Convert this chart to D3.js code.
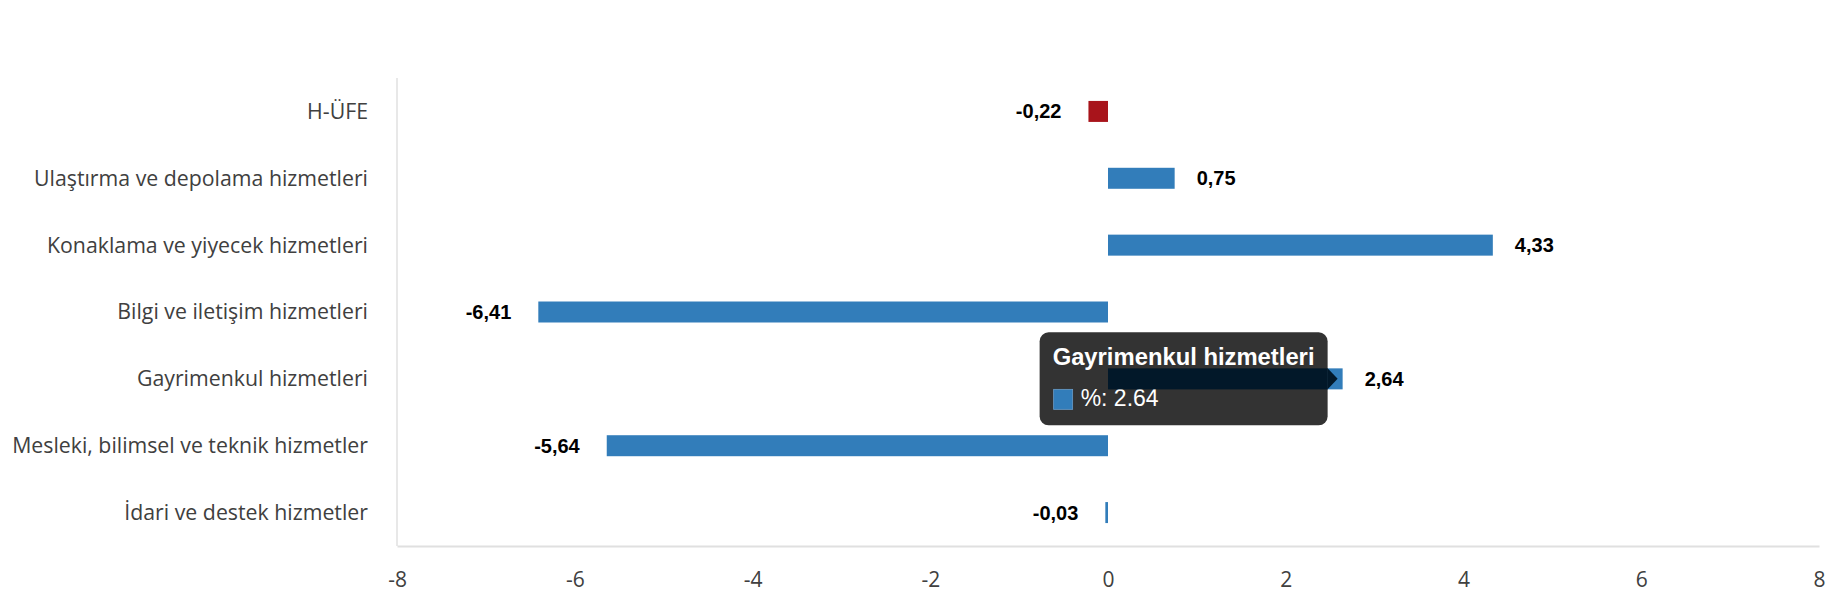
<!DOCTYPE html>
<html>
<head>
<meta charset="utf-8">
<script src="https://cdn.jsdelivr.net/npm/d3@7"></script>
<style>
  body { margin: 0; background: #fff; }
  .cat { font-family: "Open Sans", sans-serif; font-size: 21.3px; fill: #404040; }
  .tick text { font-family: "Open Sans", sans-serif; font-size: 21px; fill: #404040; }
  .val { font-family: "Liberation Sans", Arial, sans-serif; font-size: 20px; font-weight: bold; fill: #000; }
</style>
</head>
<body>
<div class="chart"></div>
<script>
const categories = [
  "H-ÜFE",
  "Ulaştırma ve depolama hizmetleri",
  "Konaklama ve yiyecek hizmetleri",
  "Bilgi ve iletişim hizmetleri",
  "Gayrimenkul hizmetleri",
  "Mesleki, bilimsel ve teknik hizmetler",
  "İdari ve destek hizmetler"
];
const values = [-0.22, 0.75, 4.33, -6.41, 2.64, -5.64, -0.03];
const xTicks = [-8, -6, -4, -2, 0, 2, 4, 6, 8];
const hovered = "Gayrimenkul hizmetleri";
const seriesName = "%";

const data = categories.map((c, i) => ({cat: c, value: values[i]}));

const margin = {top: 78, right: 11, bottom: 54, left: 397};
const width = 1830 - margin.left - margin.right;
const height = 600 - margin.top - margin.bottom;

const svg = d3.select('.chart').append('svg')
    .attr("width", 1830)
    .attr("height", 600)
  .append("g")
    .attr("transform", `translate(${margin.left},${margin.top})`);

const xScale = d3.scaleLinear().domain([-8, 8]).range([0, width]);
const yScale = d3.scaleBand().domain(categories).range([0, height])
    .paddingInner(0.686).paddingOuter(0.343);

const color = d => d.cat === "H-ÜFE" ? "#a8141b" : "#327dba";
const fmt = v => v.toFixed(2).replace(".", ",");

// axes
svg.append("g")
    .attr("class", "axis x-axis")
    .attr("transform", `translate(0,${height})`)
    .call(d3.axisBottom(xScale).tickValues(xTicks).tickFormat(d => String(d)).tickSize(0).tickPadding(26))
    .call(g => g.select(".domain").attr("stroke", "#e0e0e0").attr("stroke-width", 2));

svg.append("line")
    .attr("x1", 0).attr("x2", 0)
    .attr("y1", 0).attr("y2", height)
    .attr("stroke", "#e0e0e0").attr("stroke-width", 1.5);

svg.selectAll(".cat")
  .data(categories)
  .enter()
  .append("text")
    .attr("class", "cat")
    .attr("x", -29)
    .attr("y", d => yScale(d) + yScale.bandwidth() / 2)
    .attr("dy", "0.35em")
    .attr("text-anchor", "end")
    .text(d => d);

// bars
svg.selectAll(".bar")
  .data(data)
  .enter()
  .append("rect")
    .attr("class", "bar")
    .attr("x", d => xScale(Math.min(0, d.value)))
    .attr("y", d => yScale(d.cat))
    .attr("width", d => Math.abs(xScale(d.value) - xScale(0)))
    .attr("height", yScale.bandwidth())
    .attr("fill", color);

svg.selectAll(".val")
  .data(data)
  .enter()
  .append("text")
    .attr("class", "val")
    .attr("x", d => d.value < 0 ? xScale(d.value) - 27 : xScale(d.value) + 22)
    .attr("y", d => yScale(d.cat) + yScale.bandwidth() / 2)
    .attr("dy", "0.35em")
    .attr("text-anchor", d => d.value < 0 ? "end" : "start")
    .text(d => fmt(d.value));

// tooltip on hovered bar
const hd = data.find(d => d.cat === hovered);
const cy = yScale(hd.cat) + yScale.bandwidth() / 2;
const tipRight = xScale(hd.value) - 15;
const tipW = 288, tipH = 93;
const tip = svg.append("g").attr("transform", `translate(${tipRight - tipW},${cy - tipH / 2})`);

tip.append("rect")
    .attr("width", tipW).attr("height", tipH)
    .attr("rx", 9)
    .attr("fill", "#333333");

// highlighted bar part seen through tooltip
svg.append("rect")
    .attr("x", xScale(0))
    .attr("y", yScale(hd.cat))
    .attr("width", tipRight - xScale(0))
    .attr("height", yScale.bandwidth())
    .attr("fill", "#021829");
svg.append("path")
    .attr("d", `M${tipRight},${yScale(hd.cat)} L${tipRight + 10},${cy} L${tipRight},${yScale(hd.cat) + yScale.bandwidth()} Z`)
    .attr("fill", "#021829");

tip.append("text")
    .attr("x", 13).attr("y", 33)
    .attr("font-family", "Liberation Sans, Arial, sans-serif")
    .attr("font-size", "23.8px")
    .attr("font-weight", "bold")
    .attr("fill", "#fff")
    .text(hd.cat);

tip.append("rect")
    .attr("x", 14).attr("y", 57)
    .attr("width", 19).attr("height", 20)
    .attr("fill", color(hd))
    .attr("stroke", "#6a9cc8").attr("stroke-width", 0.8);

tip.append("text")
    .attr("x", 41).attr("y", 74)
    .attr("font-family", "Liberation Sans, Arial, sans-serif")
    .attr("font-size", "23px")
    .attr("fill", "#fff")
    .text(`${seriesName}: ${hd.value}`);
</script>
</body>
</html>
